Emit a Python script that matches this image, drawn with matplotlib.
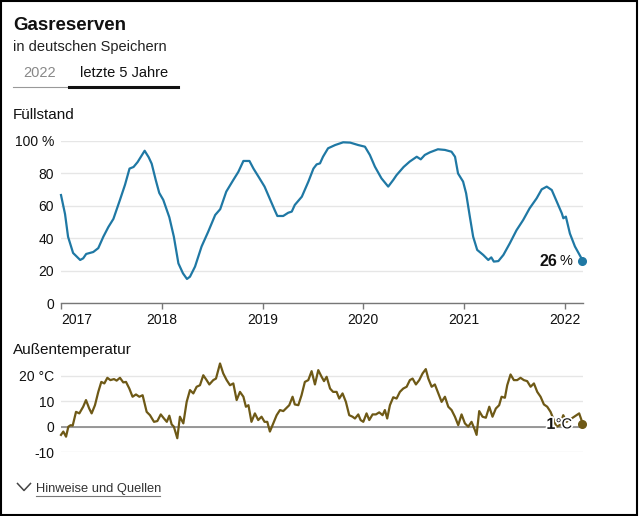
import matplotlib
matplotlib.use("Agg")
import matplotlib.pyplot as plt
from matplotlib.patches import Rectangle
from matplotlib.lines import Line2D
import matplotlib.patheffects as pe

plt.rcParams['font.family'] = ['Liberation Sans', 'DejaVu Sans']

# Füllstand der deutschen Gasspeicher (%), Zeit als Dezimaljahr
gas_jahr = [2017.00, 2017.04, 2017.07, 2017.12, 2017.19, 2017.22, 2017.25, 2017.32, 2017.37, 2017.42,
            2017.47, 2017.52, 2017.585, 2017.635, 2017.68, 2017.72, 2017.76, 2017.79, 2017.83, 2017.87,
            2017.90, 2017.94, 2017.975, 2018.015, 2018.075, 2018.12, 2018.165, 2018.21, 2018.25, 2018.28,
            2018.33, 2018.395, 2018.46, 2018.53, 2018.58, 2018.64, 2018.71, 2018.76, 2018.81, 2018.87,
            2018.91, 2018.96, 2019.02, 2019.07, 2019.12, 2019.147, 2019.205, 2019.255, 2019.29, 2019.32,
            2019.39, 2019.455, 2019.505, 2019.537, 2019.57, 2019.60, 2019.65, 2019.72, 2019.80, 2019.87,
            2019.95, 2020.016, 2020.065, 2020.115, 2020.18, 2020.247, 2020.297, 2020.33, 2020.40, 2020.46,
            2020.53, 2020.57, 2020.61, 2020.66, 2020.74, 2020.81, 2020.875, 2020.91, 2020.94, 2020.99,
            2021.02, 2021.057, 2021.09, 2021.13, 2021.19, 2021.24, 2021.27, 2021.295, 2021.34, 2021.39,
            2021.454, 2021.52, 2021.586, 2021.65, 2021.72, 2021.77, 2021.82, 2021.87, 2021.92, 2021.97,
            2021.985, 2022.01, 2022.05, 2022.10, 2022.165, 2022.175]
gas_fuell = [66.7, 55, 41, 31, 26.7, 27.7, 30.4, 31.6, 34, 41,
             47, 52, 63.7, 73, 83, 84, 87, 90, 94, 90,
             86, 76, 68, 63.7, 53, 41, 24.6, 18.5, 15, 16.4,
             22.6, 35, 44, 54.4, 58, 68.8, 76, 81, 87.7, 87.7,
             83, 78, 71.9, 64.7, 57.5, 53.8, 53.8, 55.8, 56.5, 60.6,
             65.7, 75, 83, 85.6, 86.2, 90.3, 95.5, 97.5, 99.2, 99,
             97.5, 96.5, 91.4, 84.2, 77, 71.9, 76, 79, 84, 87.3,
             90.3, 88.7, 91.4, 93, 94.9, 94.5, 93.4, 90.3, 80, 75,
             67.8, 53.4, 41, 32.9, 29.8, 26.7, 28.3, 25.7, 26, 29.8,
             37, 45, 51.3, 58.5, 64.7, 70.2, 71.9, 69.8, 62.6, 55.4,
             52.4, 53.4, 43, 35, 27.7, 26]

# Außentemperatur (°C)
temp_jahr = [2017.000, 2017.023, 2017.050, 2017.073, 2017.096, 2017.116, 2017.149, 2017.182, 2017.220, 2017.248,
             2017.280, 2017.304, 2017.337, 2017.370, 2017.400, 2017.430, 2017.460, 2017.490, 2017.526, 2017.552,
             2017.585, 2017.618, 2017.645, 2017.678, 2017.710, 2017.744, 2017.777, 2017.810, 2017.850, 2017.883,
             2017.923, 2017.956, 2017.990, 2018.022, 2018.050, 2018.075, 2018.098, 2018.120, 2018.154, 2018.180,
             2018.214, 2018.247, 2018.280, 2018.313, 2018.346, 2018.379, 2018.412, 2018.445, 2018.472, 2018.511,
             2018.538, 2018.578, 2018.610, 2018.644, 2018.677, 2018.710, 2018.743, 2018.776, 2018.810, 2018.835,
             2018.860, 2018.890, 2018.924, 2018.957, 2018.990, 2019.020, 2019.047, 2019.073, 2019.107, 2019.140,
             2019.173, 2019.206, 2019.240, 2019.265, 2019.298, 2019.320, 2019.355, 2019.387, 2019.420, 2019.454,
             2019.487, 2019.520, 2019.553, 2019.586, 2019.610, 2019.636, 2019.670, 2019.700, 2019.735, 2019.761,
             2019.794, 2019.827, 2019.860, 2019.893, 2019.917, 2019.950, 2019.973, 2020.000, 2020.032, 2020.059,
             2020.092, 2020.125, 2020.158, 2020.191, 2020.214, 2020.237, 2020.264, 2020.297, 2020.330, 2020.363,
             2020.396, 2020.430, 2020.462, 2020.489, 2020.522, 2020.555, 2020.588, 2020.620, 2020.645, 2020.678,
             2020.710, 2020.744, 2020.777, 2020.810, 2020.843, 2020.876, 2020.909, 2020.942, 2020.975, 2021.008,
             2021.041, 2021.074, 2021.107, 2021.124, 2021.150, 2021.183, 2021.216, 2021.250, 2021.282, 2021.315,
             2021.348, 2021.372, 2021.405, 2021.428, 2021.461, 2021.494, 2021.527, 2021.560, 2021.593, 2021.626,
             2021.660, 2021.693, 2021.726, 2021.759, 2021.792, 2021.825, 2021.858, 2021.891, 2021.917, 2021.950,
             2021.984, 2022.017, 2022.066, 2022.116, 2022.142, 2022.165, 2022.175]
temp_grad = [-3.2, -1.9, -3.9, 0.0, 0.6, 0.4, 5.8, 5.2, 7.8, 10.4,
             7.1, 5.2, 8.4, 13.6, 17.5, 16.9, 19.1, 18.2, 18.6, 18.0,
             19.1, 17.3, 17.5, 14.9, 11.7, 12.6, 11.7, 12.3, 5.8, 4.5,
             1.9, 2.2, 4.8, 3.2, 1.9, 4.3, 0.9, 0.0, -4.5, 3.9,
             1.3, 9.7, 14.3, 13.0, 15.6, 16.2, 20.1, 18.2, 16.5, 18.2,
             18.8, 24.7, 20.8, 18.2, 16.2, 16.9, 10.4, 13.6, 11.7, 7.8,
             8.4, 1.9, 5.2, 2.6, 3.9, 1.9, 1.9, -1.9, 1.3, 4.5,
             6.5, 6.1, 7.4, 8.4, 11.7, 8.7, 8.4, 12.3, 17.5, 18.2,
             21.7, 16.5, 22.1, 19.5, 17.8, 19.5, 14.9, 13.6, 13.6, 11.0,
             13.0, 9.7, 4.5, 3.9, 3.2, 4.8, 2.6, 1.9, 5.2, 2.6,
             4.8, 4.8, 5.6, 4.5, 6.5, 3.2, 8.4, 11.5, 11.0, 13.6,
             14.9, 15.6, 18.2, 18.8, 16.5, 18.2, 20.8, 22.5, 18.8, 15.6,
             16.5, 13.0, 9.7, 11.7, 7.8, 6.5, 3.9, 0.6, 4.8, 1.3,
             0.0, 1.9, -1.3, -3.2, 6.1, 3.9, 3.5, 7.8, 3.9, 7.1,
             8.4, 11.7, 11.3, 16.2, 20.4, 18.2, 18.2, 19.1, 18.2, 17.8,
             15.6, 16.9, 13.6, 11.7, 8.7, 7.8, 5.8, 2.6, 0.0, 0.6,
             4.5, 1.9, 3.2, 4.5, 5.2, 2.6, 0.9]

jahre = [2017, 2018, 2019, 2020, 2021, 2022]
gas_ticks = [0, 20, 40, 60, 80, 100]
gas_ticklabels = ['0', '20', '40', '60', '80', '100 %']
temp_ticks = [-10, 0, 10, 20]
temp_ticklabels = ['-10', '0', '10', '20 °C']

BLAU = '#1f78a4'
BRAUN = '#6e5916'
GRID = '#e6e6e6'

W, H = 640, 516
fig = plt.figure(figsize=(W / 100, H / 100), dpi=100)


def fx(px):
    return px / W


def fy(py):
    return 1 - py / H


# --- Kopf ---
fig.text(fx(13), fy(30), 'Gasreserven', fontsize=13.5, fontweight='bold', color='#111111')
fig.text(fx(13), fy(50.5), 'in deutschen Speichern', fontsize=10.5, color='#222222')
fig.text(fx(23), fy(77), '2022', fontsize=10.5, color='#888888')
fig.text(fx(80), fy(77), 'letzte 5 Jahre', fontsize=10.5, color='#111111')
fig.add_artist(Line2D([fx(13), fx(69)], [fy(87), fy(87)], color='#999999', lw=0.8))
fig.add_artist(Line2D([fx(69), fx(178)], [fy(87), fy(87)], color='#111111', lw=2.2))
fig.text(fx(13), fy(119), 'Füllstand', fontsize=11, color='#111111')

# --- Füllstand ---
ax1 = fig.add_axes([fx(61), fy(303.3), fx(583) - fx(61), (303.3 - 141) / H])
ax1.plot(gas_jahr, gas_fuell, color=BLAU, lw=1.6, clip_on=False, solid_joinstyle='round')
ax1.plot(gas_jahr[-1], gas_fuell[-1], 'o', color=BLAU, ms=5.5, clip_on=False)
ax1.annotate('%', (gas_jahr[-1], gas_fuell[-1]), xytext=(-7.5, 0), textcoords='offset points',
             ha='right', va='center', fontsize=10.5, color='#111111')
ax1.annotate('26', (gas_jahr[-1], gas_fuell[-1]), xytext=(-18, 0), textcoords='offset points',
             ha='right', va='center', fontsize=11.5, fontweight='bold', color='#111111')
ax1.set_xlim(2017.0, 2022.18)
ax1.set_ylim(0, 100)
ax1.set_yticks(gas_ticks)
ax1.set_yticklabels(gas_ticklabels)
ax1.set_xticks(jahre)
ax1.set_xticklabels([str(j) for j in jahre])
ax1.get_xticklabels()[0].set_horizontalalignment('left')
ax1.yaxis.grid(True, color=GRID, lw=1)
ax1.set_axisbelow(True)
for s in ['top', 'right', 'left']:
    ax1.spines[s].set_visible(False)
ax1.spines['bottom'].set_color('#777777')
ax1.spines['bottom'].set_linewidth(1)
ax1.tick_params(axis='y', length=0, pad=5, labelsize=10, labelcolor='#111111')
ax1.tick_params(axis='x', length=4, width=1, color='#777777', pad=3, labelsize=10, labelcolor='#111111')

# --- Außentemperatur ---
fig.text(fx(13), fy(354), 'Außentemperatur', fontsize=11, color='#111111')
ax2 = fig.add_axes([fx(61), fy(452.3), fx(583) - fx(61), (452.3 - 362.7) / H])
ax2.axhline(0, color='#888888', lw=1.2, zorder=1)
ax2.plot(temp_jahr, temp_grad, color=BRAUN, lw=1.6, clip_on=False, zorder=2, solid_joinstyle='round')
ax2.plot(temp_jahr[-1], temp_grad[-1], 'o', color=BRAUN, ms=5.5, clip_on=False, zorder=3)
halo = [pe.withStroke(linewidth=2.5, foreground='white')]
ax2.annotate('°C', (temp_jahr[-1], temp_grad[-1]), xytext=(-7.5, 0), textcoords='offset points',
             ha='right', va='center', fontsize=10.5, color='#111111', path_effects=halo, zorder=4)
ax2.annotate('1', (temp_jahr[-1], temp_grad[-1]), xytext=(-19.5, 0), textcoords='offset points',
             ha='right', va='center', fontsize=11.5, fontweight='bold', color='#111111',
             path_effects=halo, zorder=4)
ax2.set_xlim(2017.0, 2022.18)
ax2.set_ylim(-10, 25)
ax2.set_yticks(temp_ticks)
ax2.set_yticklabels(temp_ticklabels)
ax2.set_xticks([])
ax2.yaxis.grid(True, color=GRID, lw=1)
ax2.set_axisbelow(True)
for s in ax2.spines.values():
    s.set_visible(False)
ax2.tick_params(axis='y', length=0, pad=5, labelsize=10, labelcolor='#111111')

# --- Fuß ---
fig.add_artist(Line2D([fx(17.5), fx(24), fx(30.5)], [fy(483.5), fy(490.5), fy(483.5)],
                      color='#444444', lw=1.1))
fig.text(fx(36), fy(492), 'Hinweise und Quellen', fontsize=9.3, color='#333333')
fig.add_artist(Line2D([fx(36), fx(160)], [fy(496), fy(496)], color='#777777', lw=0.8))

# Rahmen
fig.add_artist(Rectangle((fx(0.8), fy(514.5)), fx(637) - fx(0.8), (514.5 - 0.8) / H,
                         transform=fig.transFigure, fill=False, edgecolor='black', lw=1.5))

fig.savefig('out.png', dpi=100, facecolor='white')
